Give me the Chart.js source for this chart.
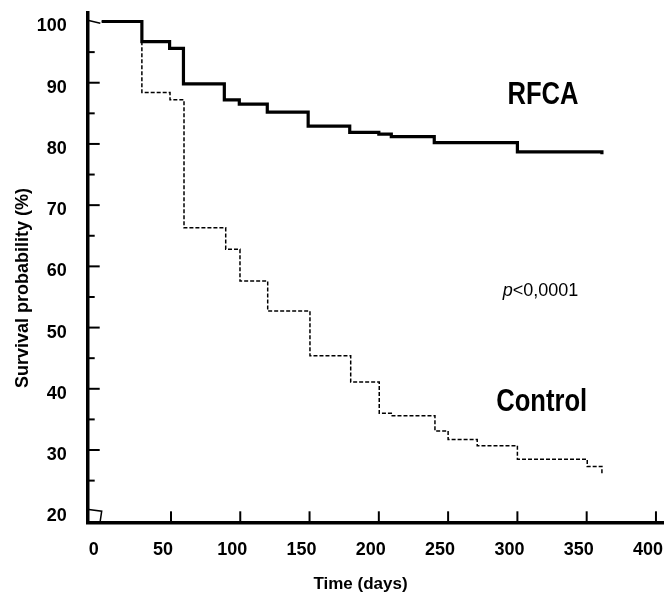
<!DOCTYPE html>
<html>
<head>
<meta charset="utf-8">
<script src="https://cdn.jsdelivr.net/npm/chart.js@4"></script>
<style>
  html, body { margin: 0; padding: 0; background: #fff; }
  #wrap { width: 664px; height: 594px; }
</style>
</head>
<body>
<div id="wrap"><canvas id="km-chart"></canvas></div>
<script>
// Kaplan-Meier steps: day of each drop and survival after it
const rfcaDays = [0, 29, 49, 59, 88.5, 99.3, 119.5, 149, 179, 200, 209, 240, 300, 361];
const rfcaSurv = [100, 96.7, 95.6, 89.8, 87.2, 86.5, 85.2, 82.9, 81.9, 81.6, 81.2, 80.2, 78.7, 78.3];

const controlDays = [0, 29, 49.3, 59.4, 89.5, 99.8, 119.8, 150.3, 179.7, 200.3, 209, 240.5, 250, 271, 300, 350.4, 361];
const controlSurv = [100, 88.4, 87.2, 66.3, 62.8, 57.6, 52.7, 45.4, 41.1, 36.0, 35.6, 33.1, 31.7, 30.7, 28.5, 27.3, 26.0];

const xTicks = [0, 50, 100, 150, 200, 250, 300, 350, 400];
const yTicks = [20, 30, 40, 50, 60, 70, 80, 90, 100];

const tickFont = { family: "'Liberation Sans', Arial, sans-serif", size: 18, weight: 'bold' };

function toPoints(days, surv) {
  return days.map((d, i) => ({ x: d, y: surv[i] }));
}

// no extra room for overhanging tick labels, the axes must sit where the figure has them
function noPadding(scale) {
  scale.paddingTop = 0;
  scale.paddingBottom = 0;
  scale.paddingLeft = 0;
  scale.paddingRight = 0;
}

// condensed bold text, the figure uses a narrow face
function narrowText(ctx, text, x, y, size) {
  ctx.save();
  ctx.font = 'bold ' + size + "px 'Liberation Sans', Arial, sans-serif";
  ctx.translate(x, y);
  ctx.scale(0.8, 1);
  ctx.textAlign = 'center';
  ctx.textBaseline = 'alphabetic';
  ctx.fillText(text, 0, 0);
  ctx.restore();
}

// inward tick marks, axis break marks, axis titles and labels
const decorations = {
  id: 'decorations',
  afterDraw(chart) {
    const ctx = chart.ctx;
    const xs = chart.scales.x, ys = chart.scales.y;
    const area = chart.chartArea;
    ctx.save();
    ctx.strokeStyle = '#000';
    ctx.lineWidth = 2;
    // y ticks every 5, long on the tens
    for (let v = 25; v <= 95; v += 5) {
      const py = ys.getPixelForValue(v);
      const len = v % 10 === 0 ? 12 : 7;
      ctx.beginPath();
      ctx.moveTo(area.left, py);
      ctx.lineTo(area.left + len, py);
      ctx.stroke();
    }
    // x ticks
    xTicks.forEach(v => {
      if (v === 0) return;
      const px = xs.getPixelForValue(v);
      ctx.beginPath();
      ctx.moveTo(px, area.bottom);
      ctx.lineTo(px, area.bottom - 11);
      ctx.stroke();
    });
    // break marks
    ctx.lineWidth = 1.5;
    ctx.beginPath();
    ctx.moveTo(area.left + 1, ys.getPixelForValue(100.15));
    ctx.lineTo(xs.getPixelForValue(-1), ys.getPixelForValue(99.7));
    ctx.stroke();
    ctx.beginPath();
    ctx.moveTo(area.left + 1, ys.getPixelForValue(20.3));
    ctx.lineTo(xs.getPixelForValue(0), ys.getPixelForValue(20));
    ctx.lineTo(xs.getPixelForValue(-1.2), area.bottom);
    ctx.stroke();

    // axis titles
    ctx.fillStyle = '#000';
    ctx.font = "bold 18px 'Liberation Sans', Arial, sans-serif";
    ctx.textAlign = 'center';
    ctx.textBaseline = 'middle';
    ctx.save();
    ctx.translate(23, 288);
    ctx.rotate(-Math.PI / 2);
    ctx.fillText('Survival probability (%)', 0, 0);
    ctx.restore();
    ctx.font = "bold 17px 'Liberation Sans', Arial, sans-serif";
    ctx.textBaseline = 'alphabetic';
    ctx.fillText('Time (days)', 360.5, 589);

    // group labels
    narrowText(ctx, 'RFCA', xs.getPixelForValue(318.5), ys.getPixelForValue(86.6), 32);
    narrowText(ctx, 'Control', xs.getPixelForValue(317.5), ys.getPixelForValue(36.3), 32);

    // p value, italic p
    const pItalic = "italic 18px 'Liberation Sans', Arial, sans-serif";
    const pRegular = "18px 'Liberation Sans', Arial, sans-serif";
    ctx.font = pItalic;
    const w1 = ctx.measureText('p').width;
    ctx.font = pRegular;
    const w2 = ctx.measureText('<0,0001').width;
    const cx = xs.getPixelForValue(316.7), by = ys.getPixelForValue(55.2);
    const x0 = cx - (w1 + w2) / 2;
    ctx.textAlign = 'left';
    ctx.font = pItalic;
    ctx.fillText('p', x0, by);
    ctx.font = pRegular;
    ctx.fillText('<0,0001', x0 + w1, by);
    ctx.restore();
  }
};

new Chart('km-chart', {
  type: 'line',
  data: {
    datasets: [
      {
        label: 'RFCA',
        data: toPoints(rfcaDays, rfcaSurv),
        stepped: true,
        borderColor: '#000',
        borderWidth: 3.2,
        pointRadius: 0,
        fill: false
      },
      {
        label: 'Control',
        data: toPoints(controlDays, controlSurv),
        stepped: true,
        borderColor: '#000',
        borderWidth: 1.5,
        borderDash: [4, 2],
        pointRadius: 0,
        fill: false
      }
    ]
  },
  options: {
    responsive: true,
    maintainAspectRatio: false,
    animation: false,
    layout: { padding: { top: 12.7, left: 0, right: 0, bottom: 0 }, autoPadding: false },
    plugins: {
      legend: { display: false },
      tooltip: { enabled: false }
    },
    scales: {
      x: {
        type: 'linear',
        min: -10.1,
        max: 405.8,
        grid: { display: false, drawTicks: false },
        border: { display: true, color: '#000', width: 3.5 },
        afterBuildTicks: scale => { scale.ticks = xTicks.map(v => ({ value: v })); },
        afterFit: scale => { scale.height = 71.7; noPadding(scale); },
        ticks: {
          color: '#000',
          font: tickFont,
          padding: 17,
          labelOffset: -8,
          maxRotation: 0,
          autoSkip: false
        }
      },
      y: {
        type: 'linear',
        min: 18.19,
        max: 101.44,
        grid: { display: false, drawTicks: false },
        border: { display: true, color: '#000', width: 3.5 },
        afterBuildTicks: scale => { scale.ticks = yTicks.map(v => ({ value: v })); },
        afterFit: scale => { scale.width = 87.7; noPadding(scale); },
        ticks: {
          color: '#000',
          font: tickFont,
          padding: 21,
          labelOffset: 5,
          autoSkip: false
        }
      }
    }
  },
  plugins: [decorations]
});
</script>
</body>
</html>
